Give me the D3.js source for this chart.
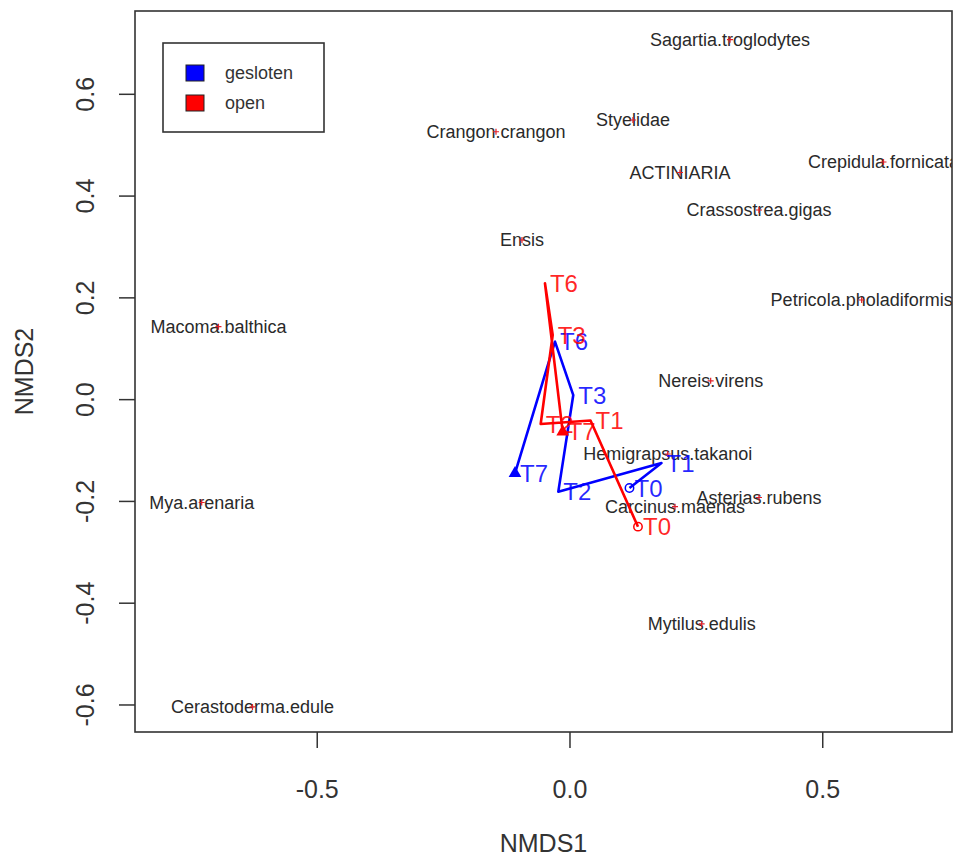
<!DOCTYPE html>
<html>
<head>
<meta charset="utf-8">
<script src="https://cdn.jsdelivr.net/npm/d3@7"></script>
<style>
  html, body { margin: 0; padding: 0; background: #fff; }
  svg { display: block; font-family: "Liberation Sans", Arial, sans-serif; }
</style>
</head>
<body>
<svg id="chart" width="954" height="864"></svg>
<script>
// ---- Data ----
const species = ["Sagartia.troglodytes","Styelidae","Crangon.crangon","ACTINIARIA","Crepidula.fornicata",
  "Crassostrea.gigas","Ensis","Petricola.pholadiformis","Macoma.balthica","Nereis.virens",
  "Hemigrapsus.takanoi","Asterias.rubens","Carcinus.maenas","Mya.arenaria","Mytilus.edulis","Cerastoderma.edule"];
const speciesX = [0.3165, 0.1246, -0.1464, 0.2176, 0.6202, 0.3739, -0.0950, 0.5770, -0.6954, 0.2783,
  0.1933, 0.3739, 0.2077, -0.7286, 0.2605, -0.6281];
const speciesY = [0.7073, 0.5495, 0.5264, 0.4463, 0.4670, 0.3727, 0.3137, 0.1958, 0.1434, 0.0370,
  -0.1068, -0.1923, -0.2104, -0.2021, -0.4408, -0.6039];

const timeLabels = ["T0","T1","T2","T3","T6","T7"];
const geslotenX = [0.1177, 0.1810, -0.0231, 0.0065, -0.0297, -0.1088];
const geslotenY = [-0.1736, -0.1245, -0.1808, 0.0090, 0.1139, -0.1448];
const openX = [0.1345, 0.0406, -0.0580, -0.0342, -0.0495, -0.0144];
const openY = [-0.2496, -0.0410, -0.0479, 0.1270, 0.2286, -0.0633];

const groups = ["gesloten", "open"];
const groupColors = ["#0000ff", "#ff0000"];

const xTicks = [-0.5, 0.0, 0.5];
const yTicks = [-0.6, -0.4, -0.2, 0.0, 0.2, 0.4, 0.6];

// ---- Layout ----
const L = 135, R = 952, T = 11, B = 732;
const x = d3.scaleLinear().domain([-0.8605, 0.7557]).range([L, R]);
const y = d3.scaleLinear().domain([-0.6531, 0.7637]).range([B, T]);

const svg = d3.select("#chart");
const ink = "#333";

svg.append("defs").append("clipPath").attr("id", "plotclip")
  .append("rect").attr("x", L).attr("y", T).attr("width", R - L).attr("height", B - T);

const plot = svg.append("g").attr("clip-path", "url(#plotclip)");

// Species: red + and centered labels
species.forEach((s, i) => {
  const px = x(speciesX[i]), py = y(speciesY[i]);
  plot.append("text").attr("x", px).attr("y", py).attr("dy", "0.36em")
    .attr("text-anchor", "middle").attr("font-size", 18).attr("fill", "#2a2a2a").text(s);
  plot.append("path").attr("d", `M${px-3},${py}H${px+3}M${px},${py-3}V${py+3}`)
    .attr("stroke", "#e0202a").attr("stroke-width", 1.2).attr("fill", "none");
});

// Trajectories
const series = [
  {name: "gesloten", xs: geslotenX, ys: geslotenY, color: groupColors[0]},
  {name: "open", xs: openX, ys: openY, color: groupColors[1]}
];
const line = d3.line().x(d => x(d[0])).y(d => y(d[1]));
series.forEach(sr => {
  const pts = sr.xs.map((v, i) => [v, sr.ys[i]]);
  plot.append("path").datum(pts).attr("d", line)
    .attr("fill", "none").attr("stroke", sr.color).attr("stroke-width", 2.6)
    .attr("stroke-linejoin", "round");
  // start circle
  plot.append("circle").attr("cx", x(pts[0][0])).attr("cy", y(pts[0][1])).attr("r", 4.2)
    .attr("fill", "none").attr("stroke", sr.color).attr("stroke-width", 1.5);
  // end triangle
  const ex = x(pts[pts.length-1][0]), ey = y(pts[pts.length-1][1]);
  plot.append("path").attr("d", d3.symbol().type(d3.symbolTriangle).size(70)())
    .attr("transform", `translate(${ex},${ey})`).attr("fill", sr.color);
  // labels
  pts.forEach((p, i) => {
    plot.append("text").attr("x", x(p[0]) + 5).attr("y", y(p[1])).attr("dy", "0.36em")
      .attr("font-size", 24).attr("fill", sr.color).attr("fill-opacity", 0.85).text(timeLabels[i]);
  });
});

// Box
svg.append("rect").attr("x", L).attr("y", T).attr("width", R - L).attr("height", B - T)
  .attr("fill", "none").attr("stroke", ink).attr("stroke-width", 1.6);

// X axis
const xAxis = svg.append("g");
xTicks.forEach(t => {
  xAxis.append("line").attr("x1", x(t)).attr("x2", x(t)).attr("y1", B).attr("y2", B + 16)
    .attr("stroke", ink).attr("stroke-width", 1.5);
  xAxis.append("text").attr("x", x(t)).attr("y", 798).attr("text-anchor", "middle")
    .attr("font-size", 25).attr("fill", ink).text(d3.format(".1f")(t).replace("−", "-"));
});
// Y axis
const yAxis = svg.append("g");
yTicks.forEach(t => {
  yAxis.append("line").attr("x1", L).attr("x2", L - 16).attr("y1", y(t)).attr("y2", y(t))
    .attr("stroke", ink).attr("stroke-width", 1.5);
  yAxis.append("text").attr("transform", `translate(94,${y(t)}) rotate(-90)`)
    .attr("text-anchor", "middle").attr("font-size", 25).attr("fill", ink)
    .text(d3.format(".1f")(t).replace("−", "-"));
});

// Axis titles
svg.append("text").attr("x", (L + R) / 2).attr("y", 852).attr("text-anchor", "middle")
  .attr("font-size", 25).attr("fill", ink).text("NMDS1");
svg.append("text").attr("transform", `translate(33,${(T + B) / 2}) rotate(-90)`)
  .attr("text-anchor", "middle").attr("font-size", 25).attr("fill", ink).text("NMDS2");

// Legend
const lg = svg.append("g");
lg.append("rect").attr("x", 163).attr("y", 43).attr("width", 161).attr("height", 89)
  .attr("fill", "#fff").attr("stroke", ink).attr("stroke-width", 1.6);
groups.forEach((g, i) => {
  const cy = 73 + i * 30;
  lg.append("rect").attr("x", 186).attr("y", cy - 8).attr("width", 18).attr("height", 16)
    .attr("fill", groupColors[i]).attr("stroke", "#222").attr("stroke-width", 1);
  lg.append("text").attr("x", 225).attr("y", cy).attr("dy", "0.36em").attr("font-size", 18)
    .attr("fill", ink).text(g);
});
</script>
</body>
</html>
